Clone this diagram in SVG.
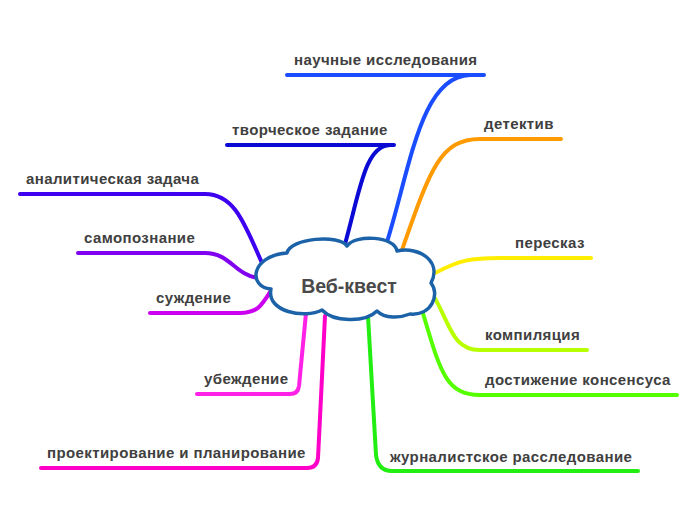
<svg xmlns="http://www.w3.org/2000/svg" width="696" height="520" viewBox="0 0 696 520">
<style>
.c{fill:none;stroke-width:4;stroke-linecap:round;stroke-linejoin:round}
.t{font-family:"Liberation Sans",Arial,sans-serif;font-weight:bold;font-size:15px;letter-spacing:0.4px;fill:#404040}
.m{font-family:"Liberation Sans",Arial,sans-serif;font-weight:bold;font-size:19.5px;fill:#4a4a4a}
</style>
<rect width="696" height="520" fill="#ffffff"/>
<g id="connectors">
<path class="c" stroke="#1a4dff" d="M386 245 C410 170 420 76 470 75 L484 75 L287 75"/>
<path class="c" stroke="#0a0ad4" d="M345 244 C360 190 365 146 390 145 L394 145 L227 145"/>
<path class="c" stroke="#ff9a00" d="M402 250 C430 170 440 139 480 139 L561 139"/>
<path class="c" stroke="#ffee00" d="M435 273 C460 260 470 258 500 258 L591 258"/>
<path class="c" stroke="#b8ff00" d="M430 290 C450 320 450 350 480 350 L587 350"/>
<path class="c" stroke="#55ff00" d="M422 310 C440 370 445 395 480 395 L677 395"/>
<path class="c" stroke="#22ee11" d="M368 316 L376 455 Q378 471 392 471 L638 471"/>
<path class="c" stroke="#ff00c8" d="M325 316 L318 458 Q317 468 307 468 L41 468"/>
<path class="c" stroke="#ff22e6" d="M306 313 L299 386 Q298 394 290 394 L197 394"/>
<path class="c" stroke="#cc00f0" d="M272 289 C262 305 258 313 240 313 L150 313"/>
<path class="c" stroke="#8000f0" d="M78 253 L205 253 C230 253 235 275 258 278"/>
<path class="c" stroke="#3d00f0" d="M20 194 L205 194 C235 194 245 225 262 263"/>
</g>
<g id="root">
<path d="M287 253 C290 238 340 234 347 246 C355 234 395 236 397 251 C420 246 442 262 431 283 C440 294 432 316 410 314 C400 318 385 319 377 311 C365 323 333 322 322 310 C305 319 266 312 271 289 C248 287 250 256 287 253 Z" fill="#ffffff" stroke="#1c62a8" stroke-width="3.5" stroke-linejoin="round"/>
<text class="m" x="349" y="293" text-anchor="middle">Веб-квест</text>
</g>
<g id="n1"><text class="t" x="294" y="65">научные исследования</text></g>
<g id="n2"><text class="t" x="232" y="135">творческое задание</text></g>
<g id="n3"><text class="t" x="484" y="129">детектив</text></g>
<g id="n4"><text class="t" x="515" y="248">пересказ</text></g>
<g id="n5"><text class="t" x="485" y="340">компиляция</text></g>
<g id="n6"><text class="t" x="485" y="385">достижение консенсуса</text></g>
<g id="n7"><text class="t" x="390" y="462">журналистское расследование</text></g>
<g id="n8"><text class="t" x="47" y="458">проектирование и планирование</text></g>
<g id="n9"><text class="t" x="204" y="384">убеждение</text></g>
<g id="n10"><text class="t" x="156" y="303">суждение</text></g>
<g id="n11"><text class="t" x="84" y="243">самопознание</text></g>
<g id="n12"><text class="t" x="26" y="184">аналитическая задача</text></g>
</svg>
